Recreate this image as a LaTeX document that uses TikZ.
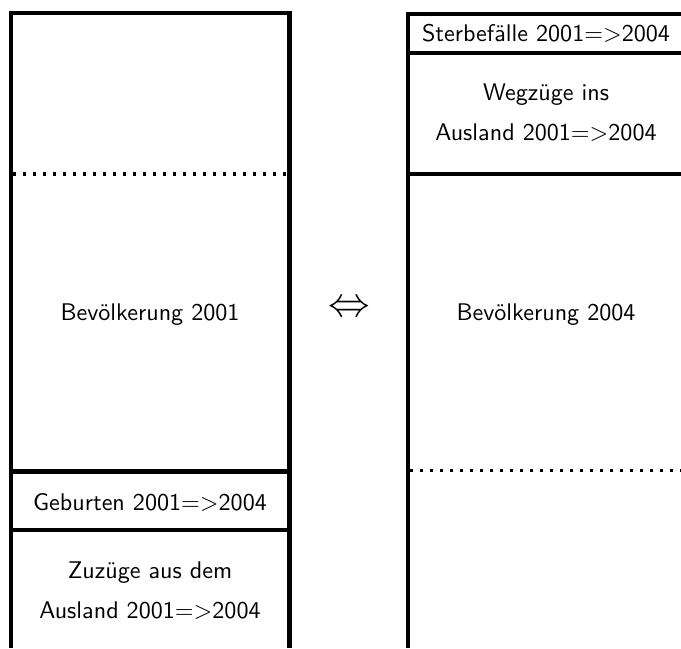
\documentclass[tikz,border=0pt]{standalone}
\usepackage{fontspec}
\begin{document}
\begin{tikzpicture}[x=0.415pt,y=-0.415pt,
  wall/.style={line width=1.7pt,line join=miter,line cap=butt},
  dotline/.style={line width=1.25pt,dash pattern=on 1.25pt off 2.9pt},
  lbl/.style={font=\sffamily\fontsize{10}{16.6}\selectfont,align=center,inner sep=0pt,anchor=base}]
\useasboundingbox (0,0) rectangle (681,648);
% left column
\draw[wall] (11,648) -- (11,13) -- (289.5,13) -- (289.5,648);
\draw[dotline] (13,174) -- (288,174);
\draw[wall] (11,471.5) -- (289.5,471.5);
\draw[wall] (11,530) -- (289.5,530);
% right column
\draw[wall] (408,648) -- (408,14) -- (681,14);
\draw[wall] (408,53) -- (681,53);
\draw[wall] (408,174) -- (681,174);
\draw[dotline] (410,470) -- (681,470);
% labels
\node[lbl] (b1) at (150,320) {Bevölkerung 2001};
\node[lbl] (geb) at (150,510) {Geburten 2001=>2004};
\node[lbl] (zuz) at (150,618.3) {Zuzüge aus dem\\Ausland 2001=>2004};
\node[lbl] (st) at (546,42) {Sterbefälle 2001=>2004};
\node[lbl] (weg) at (546,140) {Wegzüge ins\\Ausland 2001=>2004};
\node[lbl] (b4) at (546,320) {Bevölkerung 2004};
\node[inner sep=0pt,font=\fontsize{17.8}{20}\selectfont] (eq) at (349.5,309) {$\Leftrightarrow$};
\end{tikzpicture}
\end{document}
